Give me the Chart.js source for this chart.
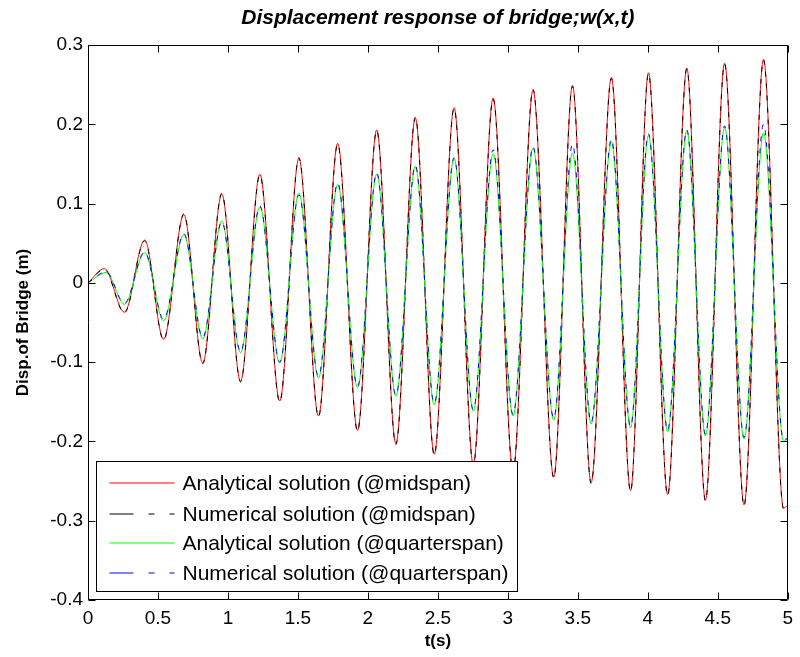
<!DOCTYPE html>
<html>
<head>
<meta charset="utf-8">
<title>Displacement response of bridge</title>
<script src="https://cdn.jsdelivr.net/npm/chart.js@4.4.1/dist/chart.umd.min.js"></script>
<style>
	html, body { margin: 0; padding: 0; background: #ffffff; }
</style>
</head>
<body>
<canvas id="mycanvas" width="800" height="657"></canvas>
<script>
// peaks / troughs, t in seconds, w in metres
var tMid = [0, 0.117, 0.26, 0.405, 0.54, 0.685, 0.82, 0.956, 1.09, 1.228,
	1.37, 1.507, 1.647, 1.784, 1.926, 2.063, 2.2, 2.339, 2.474, 2.616,
	2.753, 2.895, 3.037, 3.18, 3.328, 3.462, 3.595, 3.74, 3.877, 4.005,
	4.142, 4.279, 4.412, 4.549, 4.688, 4.827, 4.97, 5.0];
var wMidAnalytical = [0, 0.018, -0.037, 0.054, -0.071, 0.086, -0.101, 0.112, -0.124, 0.137,
	-0.149, 0.157, -0.168, 0.176, -0.186, 0.193, -0.203, 0.208, -0.216, 0.221,
	-0.229, 0.233, -0.237, 0.243, -0.245, 0.249, -0.252, 0.259, -0.262, 0.265,
	-0.267, 0.271, -0.274, 0.277, -0.280, 0.282, -0.284, -0.281];
var wMidNumerical = [0, 0.017, -0.038, 0.053, -0.072, 0.087, -0.102, 0.113, -0.125, 0.136,
	-0.150, 0.158, -0.169, 0.175, -0.187, 0.192, -0.204, 0.209, -0.217, 0.220,
	-0.230, 0.232, -0.238, 0.244, -0.246, 0.248, -0.253, 0.258, -0.263, 0.264,
	-0.268, 0.270, -0.275, 0.276, -0.281, 0.281, -0.285, -0.283];

var tQuarter = [0, 0.13, 0.26, 0.405, 0.54, 0.685, 0.82, 0.956, 1.09, 1.228,
	1.37, 1.507, 1.647, 1.784, 1.926, 2.063, 2.2, 2.339, 2.474, 2.616,
	2.753, 2.895, 3.037, 3.18, 3.328, 3.462, 3.595, 3.74, 3.877, 4.005,
	4.142, 4.279, 4.412, 4.549, 4.688, 4.827, 4.97, 5.0];
var wQuarterAnalytical = [0, 0.013, -0.027, 0.038, -0.048, 0.061, -0.071, 0.078, -0.088, 0.096,
	-0.101, 0.113, -0.120, 0.124, -0.132, 0.137, -0.143, 0.147, -0.154, 0.157,
	-0.162, 0.163, -0.168, 0.170, -0.173, 0.164, -0.178, 0.178, -0.183, 0.186,
	-0.188, 0.192, -0.193, 0.196, -0.197, 0.189, -0.200, -0.196];
var wQuarterNumerical = [0, 0.014, -0.026, 0.039, -0.046, 0.062, -0.069, 0.077, -0.087, 0.097,
	-0.100, 0.111, -0.118, 0.126, -0.131, 0.139, -0.142, 0.148, -0.152, 0.158,
	-0.160, 0.168, -0.166, 0.172, -0.171, 0.175, -0.176, 0.181, -0.181, 0.188,
	-0.186, 0.193, -0.191, 0.198, -0.195, 0.200, -0.198, -0.196];

var seriesLabels = ["Analytical solution (@midspan)", "Numerical solution (@midspan)",
	"Analytical solution (@quarterspan)", "Numerical solution (@quarterspan)"];
var seriesColors = ["#ff0000", "#000000", "#00ff00", "#0000ff"];
var seriesDashed = [false, true, false, true];

var yTicks = [0.3, 0.2, 0.1, 0, -0.1, -0.2, -0.3, -0.4];
var xTicks = [0, 0.5, 1, 1.5, 2, 2.5, 3, 3.5, 4, 4.5, 5];

function points(t, w) {
	var out = [];
	for (var i in t) {
		out.push({x: t[i], y: w[i]});
	}
	return out;
}

var FONT = '"Liberation Sans", Arial, Helvetica, sans-serif';

// matlab style box with ticks pointing inwards
var boxPlugin = {
	id: 'box',
	afterDatasetsDraw: function(chart) {
		var ctx = chart.ctx;
		var a = chart.chartArea;
		var xs = chart.scales.x, ys = chart.scales.y;
		var l = Math.round(a.left) + 0.5, r = Math.round(a.right) - 0.5;
		var t = Math.round(a.top) + 0.5, b = Math.round(a.bottom) - 0.5;
		ctx.save();
		ctx.strokeStyle = '#000000';
		ctx.lineWidth = 1;
		ctx.beginPath();
		ctx.rect(l, t, r - l, b - t);
		for (var i in xTicks) {
			var px = Math.round(xs.getPixelForValue(xTicks[i])) + 0.5;
			ctx.moveTo(px, b); ctx.lineTo(px, b - 7);
			ctx.moveTo(px, t); ctx.lineTo(px, t + 7);
		}
		for (var j in yTicks) {
			var py = Math.round(ys.getPixelForValue(yTicks[j])) + 0.5;
			ctx.moveTo(l, py); ctx.lineTo(l + 7, py);
			ctx.moveTo(r, py); ctx.lineTo(r - 7, py);
		}
		ctx.stroke();
		ctx.restore();
	}
};

// legend box in the lower left corner of the axes
var legendPlugin = {
	id: 'boxLegend',
	afterDraw: function(chart) {
		var ctx = chart.ctx;
		var a = chart.chartArea;
		var bx = Math.round(a.left) + 8.5, bw = 421;
		var bh = 130, by = Math.round(a.bottom) - 8.5 - bh;
		ctx.save();
		ctx.fillStyle = '#ffffff';
		ctx.fillRect(bx, by, bw, bh);
		ctx.strokeStyle = '#000000';
		ctx.lineWidth = 1;
		ctx.strokeRect(bx, by, bw, bh);
		var rows = [21, 52, 81, 111];
		for (var i = 0; i < seriesLabels.length; i++) {
			var y = Math.round(by + rows[i]);
			ctx.beginPath();
			ctx.lineWidth = 1;
			ctx.strokeStyle = seriesColors[i];
			ctx.setLineDash(seriesDashed[i] ? [24, 15, 6, 15] : []);
			ctx.moveTo(bx + 13, y);
			ctx.lineTo(bx + 78, y);
			ctx.stroke();
			ctx.setLineDash([]);
			ctx.fillStyle = '#000000';
			ctx.font = '21px ' + FONT;
			ctx.textBaseline = 'middle';
			ctx.fillText(seriesLabels[i], bx + 86, y + 1);
		}
		ctx.restore();
	}
};

var chartdata = {
	datasets: [
		{
			label: seriesLabels[0],
			data: points(tMid, wMidAnalytical),
			borderColor: seriesColors[0],
			order: 4
		},
		{
			label: seriesLabels[1],
			data: points(tMid, wMidNumerical),
			borderColor: seriesColors[1],
			borderDash: [5, 7],
			order: 3
		},
		{
			label: seriesLabels[2],
			data: points(tQuarter, wQuarterAnalytical),
			borderColor: seriesColors[2],
			order: 2
		},
		{
			label: seriesLabels[3],
			data: points(tQuarter, wQuarterNumerical),
			borderColor: seriesColors[3],
			borderDash: [5, 7],
			order: 1
		}
	]
};

var ctx = document.getElementById("mycanvas");

var LineGraph = new Chart(ctx, {
	type: 'line',
	data: chartdata,
	plugins: [boxPlugin, legendPlugin],
	options: {
		responsive: false,
		animation: false,
		events: [],
		layout: { padding: { left: 0, right: 8, top: 0, bottom: 0 } },
		elements: {
			line: { borderWidth: 1, fill: false, cubicInterpolationMode: 'monotone' },
			point: { radius: 0 }
		},
		plugins: {
			legend: { display: false },
			tooltip: { enabled: false },
			title: {
				display: true,
				fullSize: false,
				text: 'Displacement response of bridge;w(x,t)',
				color: '#000000',
				font: { family: FONT, size: 21, style: 'italic', weight: 'bold' },
				padding: { top: 6, bottom: 13.8 }
			}
		},
		scales: {
			x: {
				type: 'linear',
				min: 0,
				max: 5,
				afterFit: function(s) { s.height = 57; },
				afterBuildTicks: function(s) {
					s.ticks = xTicks.map(function(v) { return {value: v}; });
				},
				grid: { display: false, drawTicks: false },
				border: { display: false },
				ticks: {
					color: '#000000',
					padding: 7,
					maxRotation: 0,
					font: { family: FONT, size: 19 },
					callback: function(v) { return String(Math.round(v * 10) / 10); }
				},
				title: {
					display: true,
					text: 't(s)',
					color: '#000000',
					font: { family: FONT, size: 17, weight: 'bold' },
					padding: { top: 0, bottom: 5 }
				}
			},
			y: {
				min: -0.4,
				max: 0.3,
				afterFit: function(s) { s.width = 88; },
				afterBuildTicks: function(s) {
					s.ticks = yTicks.map(function(v) { return {value: v}; });
				},
				grid: { display: false, drawTicks: false },
				border: { display: false },
				ticks: {
					color: '#000000',
					padding: 5,
					font: { family: FONT, size: 19 },
					callback: function(v) { return String(Math.round(v * 10) / 10); }
				},
				title: {
					display: true,
					text: 'Disp.of Bridge (m)',
					color: '#000000',
					font: { family: FONT, size: 17, weight: 'bold' },
					padding: { top: 13, bottom: 0 }
				}
			}
		}
	}
});
</script>
</body>
</html>
